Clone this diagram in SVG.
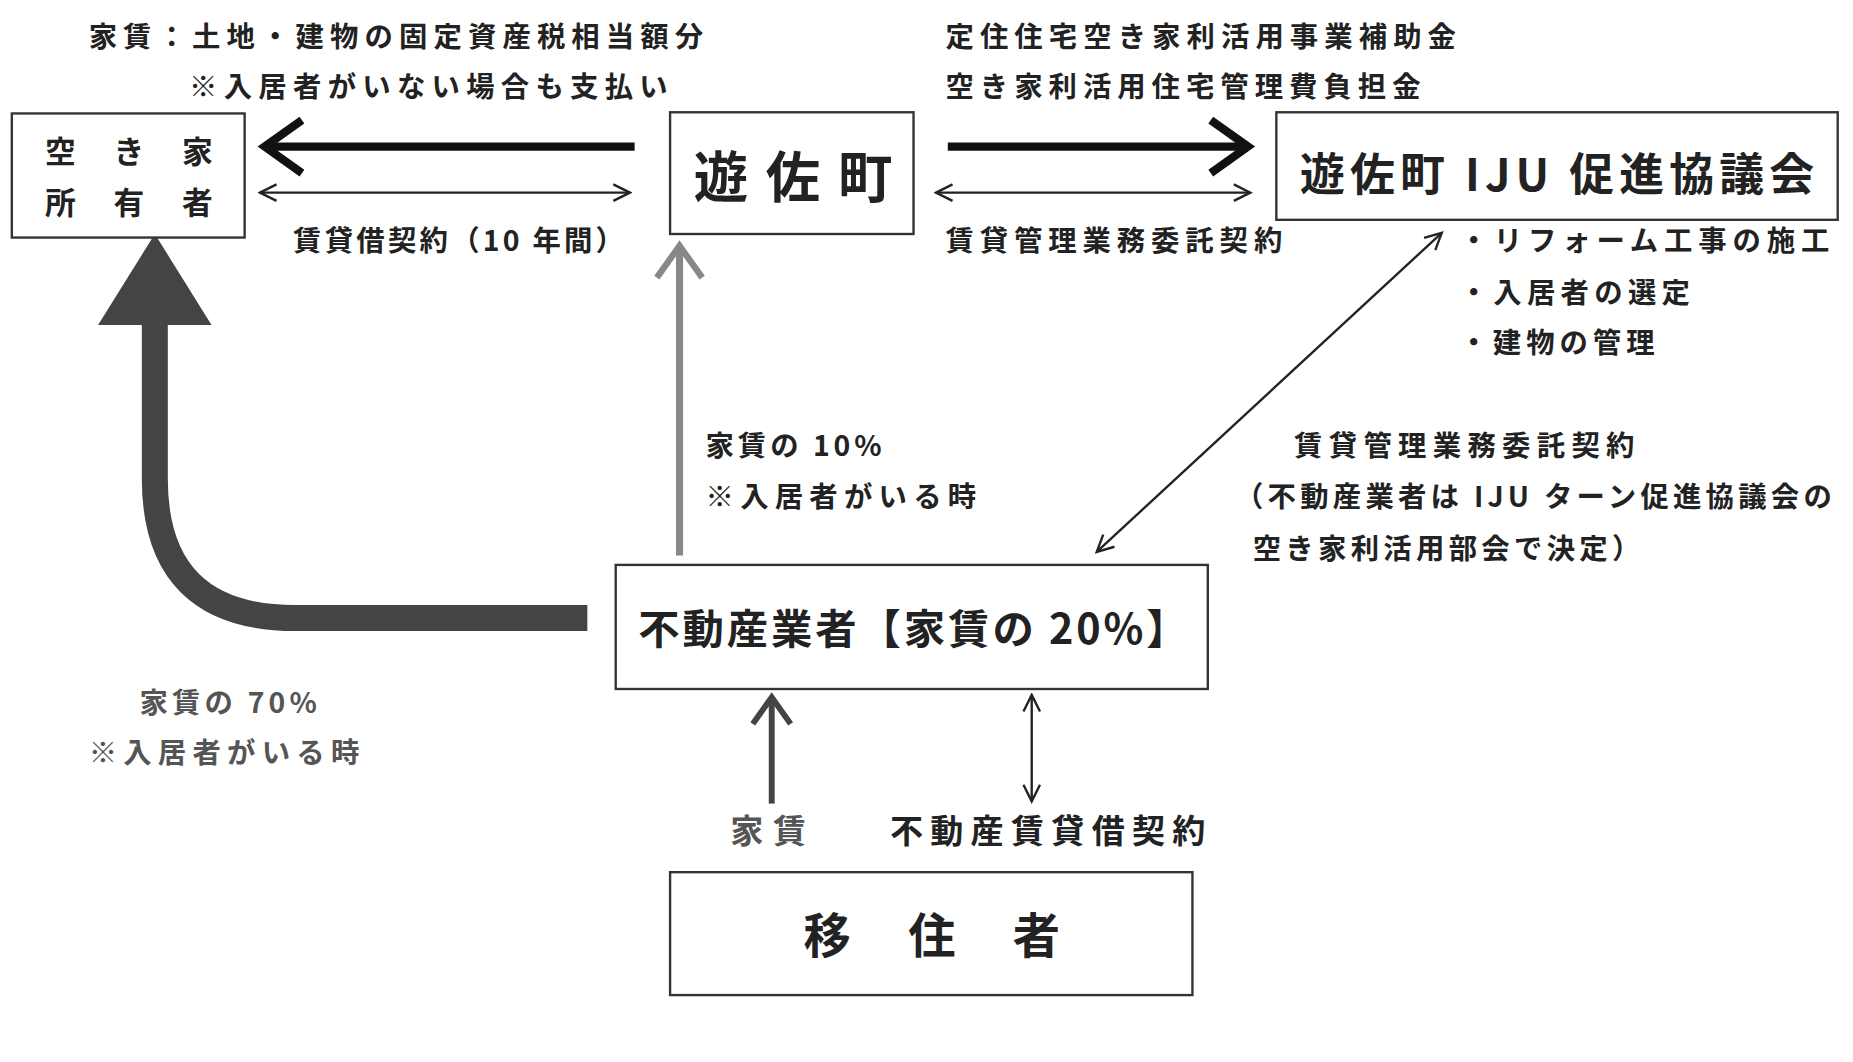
<svg xmlns="http://www.w3.org/2000/svg" width="1853" height="1062" viewBox="0 0 1853 1062">
<style>
text{font-family:"Noto Sans CJK JP",sans-serif;font-weight:bold;fill:#222}
.s{font-size:24px}
.box{fill:#fff;stroke:#333;stroke-width:2}
</style>
<defs>
<marker id="ah" markerWidth="18" markerHeight="18" refX="16" refY="9" orient="auto-start-reverse" markerUnits="userSpaceOnUse"><path d="M2,2 L16,9 L2,16" fill="none" stroke="#222" stroke-width="2"/></marker>
<marker id="ahb" markerWidth="8" markerHeight="8" refX="6" refY="4" orient="auto" markerUnits="strokeWidth"><path d="M1.5,0.8 L6,4 L1.5,7.2" fill="none" stroke="#111" stroke-width="1"/></marker>
<marker id="ahg" markerWidth="8" markerHeight="8" refX="6" refY="4" orient="auto" markerUnits="strokeWidth"><path d="M1.5,0.8 L6,4 L1.5,7.2" fill="none" stroke="#888" stroke-width="0.9"/></marker>
<marker id="ahd" markerWidth="8" markerHeight="8" refX="6" refY="4" orient="auto" markerUnits="strokeWidth"><path d="M1.5,0.8 L6,4 L1.5,7.2" fill="none" stroke="#444" stroke-width="1"/></marker>
</defs>
<rect width="1853" height="1062" fill="#fff"/>
<g transform="scale(1.1818)">
<g id="connectors">
<line x1="537" y1="124" x2="224" y2="124" stroke="#111" stroke-width="7" marker-end="url(#ahb)"/>
<line x1="220" y1="163" x2="533" y2="163" stroke="#222" stroke-width="2" marker-start="url(#ah)" marker-end="url(#ah)"/>
<line x1="802" y1="124" x2="1056" y2="124" stroke="#111" stroke-width="7" marker-end="url(#ahb)"/>
<line x1="792" y1="163" x2="1058" y2="163" stroke="#222" stroke-width="2" marker-start="url(#ah)" marker-end="url(#ah)"/>
<line x1="1220" y1="197" x2="928" y2="467" stroke="#222" stroke-width="2" marker-start="url(#ah)" marker-end="url(#ah)"/>
<line x1="575" y1="470" x2="575" y2="208" stroke="#888" stroke-width="6" marker-end="url(#ahg)"/>
<path d="M497,523 L250,523 Q131,523 131,405 L131,272" fill="none" stroke="#444" stroke-width="22"/>
<polygon points="83,275 179,275 131,198" fill="#444"/>
<line x1="653" y1="680" x2="653" y2="590" stroke="#444" stroke-width="5" marker-end="url(#ahd)"/>
<line x1="873" y1="588" x2="873" y2="678" stroke="#222" stroke-width="2" marker-start="url(#ah)" marker-end="url(#ah)"/>
</g>
<g id="owner"><rect class="box" x="10" y="96" width="197" height="105"/>
<text x="38" y="138" font-size="26" textLength="142" lengthAdjust="spacing">空き家</text>
<text x="38" y="181" font-size="26" textLength="142" lengthAdjust="spacing">所有者</text></g>
<g id="town"><rect class="box" x="567" y="95" width="206" height="103"/>
<text x="587" y="167" font-size="46" textLength="168" lengthAdjust="spacing">遊佐町</text></g>
<g id="iju"><rect class="box" x="1080" y="95" width="475" height="91"/>
<text x="1100" y="162" font-size="38" textLength="435" lengthAdjust="spacing">遊佐町 IJU 促進協議会</text></g>
<g id="agent"><rect class="box" x="521" y="478" width="501" height="105"/>
<text x="540" y="545" font-size="35" textLength="465" lengthAdjust="spacing">不動産業者【家賃の 20%】</text></g>
<g id="migrant"><rect class="box" x="567" y="738" width="442" height="104"/>
<text x="680" y="806" font-size="40" textLength="217" lengthAdjust="spacing">移住者</text></g>
<g id="labels">
<text x="75" y="40" class="s" textLength="520" lengthAdjust="spacing">家賃：土地・建物の固定資産税相当額分</text>
<text x="160" y="82" class="s" textLength="405" lengthAdjust="spacing">※入居者がいない場合も支払い</text>
<text x="800" y="40" class="s" textLength="432" lengthAdjust="spacing">定住住宅空き家利活用事業補助金</text>
<text x="800" y="82" class="s" textLength="402" lengthAdjust="spacing">空き家利活用住宅管理費負担金</text>
<text x="248" y="212" class="s" textLength="280" lengthAdjust="spacing">賃貸借契約（10 年間）</text>
<text x="800" y="212" class="s" textLength="285" lengthAdjust="spacing">賃貸管理業務委託契約</text>
<text x="1235" y="212" class="s" textLength="313" lengthAdjust="spacing">・リフォーム工事の施工</text>
<text x="1235" y="256" class="s" textLength="195" lengthAdjust="spacing">・入居者の選定</text>
<text x="1235" y="299" class="s" textLength="165" lengthAdjust="spacing">・建物の管理</text>
<text x="1095" y="386" class="s" textLength="288" lengthAdjust="spacing">賃貸管理業務委託契約</text>
<text x="1045" y="429" class="s" textLength="505" lengthAdjust="spacing">（不動産業者は IJU ターン促進協議会の</text>
<text x="1060" y="473" class="s" textLength="328" lengthAdjust="spacing">空き家利活用部会で決定）</text>
<text x="597" y="386" class="s" textLength="149" lengthAdjust="spacing">家賃の 10%</text>
<text x="597" y="429" class="s" textLength="229" lengthAdjust="spacing">※入居者がいる時</text>
<text x="118" y="603" class="s" style="fill:#555" textLength="150" lengthAdjust="spacing">家賃の 70%</text>
<text x="75" y="646" class="s" style="fill:#555" textLength="229" lengthAdjust="spacing">※入居者がいる時</text>
<text x="618" y="713" style="fill:#555;font-size:28px" textLength="64" lengthAdjust="spacing">家賃</text>
<text x="753" y="713" style="font-size:28px" textLength="267" lengthAdjust="spacing">不動産賃貸借契約</text>
</g>
</g>
</svg>
